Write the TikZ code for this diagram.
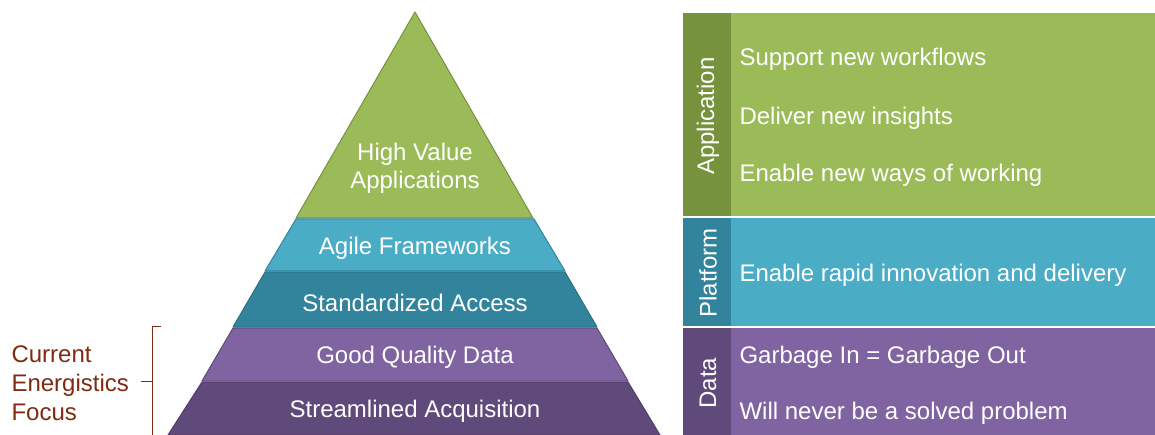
\documentclass[tikz,border=0pt]{standalone}
\usepackage{fontspec}
\setmainfont{Liberation Sans}
\definecolor{gA}{HTML}{9BBB59}
\definecolor{gAd}{HTML}{76923C}
\definecolor{bL}{HTML}{4BACC6}
\definecolor{bD}{HTML}{31849B}
\definecolor{bDd}{HTML}{2A6F83}
\definecolor{pL}{HTML}{8064A2}
\definecolor{pD}{HTML}{604A7B}
\definecolor{pDd}{HTML}{4F3C66}
\definecolor{brn}{HTML}{7F2B10}
\tikzset{
  layer/.style={line width=1pt, line join=round},
  ptxt/.style={text=white, font=\fontsize{24}{28}\selectfont, align=center},
  rtxt/.style={text=white, font=\fontsize{24}{28}\selectfont, anchor=west},
  vtxt/.style={text=white, font=\fontsize{24}{28}\selectfont, rotate=90},
  ltxt/.style={text=brn, font=\fontsize{24}{29}\selectfont, align=left, anchor=west},
}
\begin{document}
\begin{tikzpicture}[x=1pt,y=-1pt]
\useasboundingbox (0,0) rectangle (1155,435);
% pyramid layers
\draw[layer, fill=gA, draw=gAd] (415,12) -- (533,218) -- (296,218) -- cycle;
\draw[layer, fill=bL, draw=bD] (296,219) -- (534,219) -- (565,271) -- (265,271) -- cycle;
\draw[layer, fill=bD, draw=bDd] (265,272) -- (565,272) -- (597,327) -- (233,327) -- cycle;
\draw[layer, fill=pL, draw=pD] (233,328) -- (597,328) -- (628,381) -- (202,381) -- cycle;
\draw[layer, fill=pD, draw=pDd] (202,382) -- (628,382) -- (660,435) -- (168,435) -- cycle;
\node[ptxt] (hv) at (415,168) {High Value\\Applications};
\node[ptxt] (af) at (415,248) {Agile Frameworks};
\node[ptxt] (sa) at (415,303) {Standardized Access};
\node[ptxt] (gq) at (415,357) {Good Quality Data};
\node[ptxt] (sq) at (415,411) {Streamlined Acquisition};
% bracket
\draw[brn, line width=0.8pt] (161,326) -- (152,326) -- (152,436);
\draw[brn, line width=0.8pt] (141,381) -- (152,381);
\node[ltxt] (cef) at (8,383) {Current\\Energistics\\Focus};
% right table
\fill[gA] (683,13) rectangle (1155,216);
\fill[gAd] (683,13) rectangle (731,216);
\fill[bL] (683,218) rectangle (1155,326);
\fill[bD] (683,218) rectangle (731,326);
\fill[pL] (683,328) rectangle (1155,435);
\fill[pD] (683,328) rectangle (731,435);
\node[vtxt] (app) at (708,116) {Application};
\node[vtxt] (plat) at (708,273) {Platform};
\node[vtxt] (dat) at (708,383) {Data};
\node[rtxt] (t1) at (736,59) {Support new workflows};
\node[rtxt] (t2) at (736,118) {Deliver new insights};
\node[rtxt] (t3) at (736,175) {Enable new ways of working};
\node[rtxt] (t4) at (736,275) {Enable rapid innovation and delivery};
\node[rtxt] (t5) at (736,357) {Garbage In = Garbage Out};
\node[rtxt] (t6) at (736,413) {Will never be a solved problem};
\end{tikzpicture}
\end{document}
